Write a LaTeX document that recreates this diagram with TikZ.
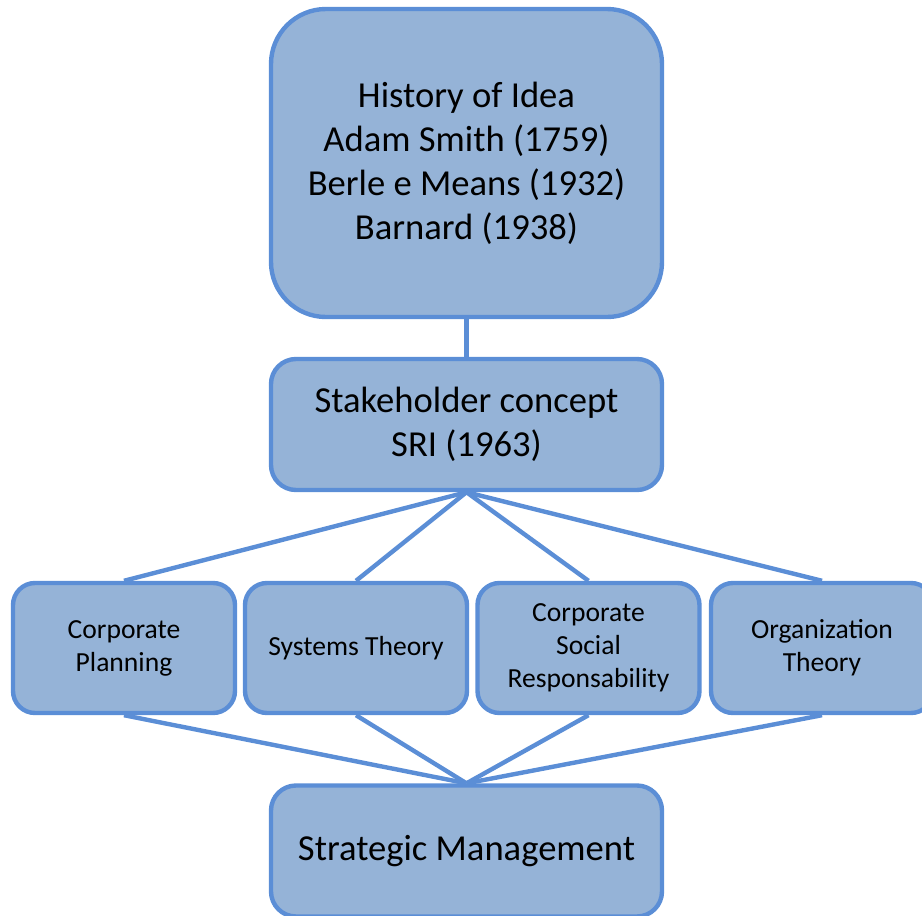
\documentclass[tikz,border=0pt]{standalone}
\usepackage{fontspec}
\setmainfont{Carlito}
\usepackage{xcolor}
\usepackage{tikz}
\usetikzlibrary{shapes}

\definecolor{boxfill}{HTML}{95B3D7}
\definecolor{boxline}{HTML}{5B8ED6}

\begin{document}
\begin{tikzpicture}[
    x=0.5pt, y=-0.5pt,
    bigbox/.style={rectangle, rounded corners=12.5pt, draw=boxline, fill=boxfill,
        line width=2.2pt, minimum width=195.5pt, minimum height=65.5pt,
        inner sep=0pt, align=center, font=\fontsize{18.3}{22}\selectfont},
    smallbox/.style={rectangle, rounded corners=11pt, draw=boxline, fill=boxfill,
        line width=2.2pt, minimum width=111pt, minimum height=65pt,
        inner sep=0pt, align=center, font=\fontsize{13.8}{16.5}\selectfont},
    link/.style={draw=boxline, line width=2.2pt},
]
\useasboundingbox (0,0) rectangle (922,916);

% Connectors first, so the boxes sit on top
\coordinate (hs) at (466.5,317);
\coordinate (sn) at (466.5,359);
\draw[link] (hs) -- (sn);

% Upper boxes
\node[bigbox, rounded corners=27.5pt, minimum height=154pt] (hist) at (466.5,163)
    {History of Idea\\Adam Smith (1759)\\Berle e Means (1932)\\Barnard (1938)};
\node[bigbox] (stake) at (466.5,424.5) {Stakeholder concept\\SRI (1963)};

% Row of four fields
\node[smallbox] (cp) at (124,648) {Corporate\\Planning};
\node[smallbox] (st) at (356,648) {Systems Theory};
\node[smallbox] (csr) at (588.5,648) {Corporate\\Social\\Responsability};
\node[smallbox] (ot) at (822,648) {Organization\\Theory};

% Result
\node[bigbox] (strat) at (466.5,851) {Strategic Management};

% Fan out and fan in
\begin{scope}[on background layer/.try]
\foreach \f in {cp,st,csr,ot}{
    \draw[link] (stake.south) -- (\f.north);
    \draw[link] (\f.south) -- (strat.north);
}
\end{scope}

\end{tikzpicture}
\end{document}
